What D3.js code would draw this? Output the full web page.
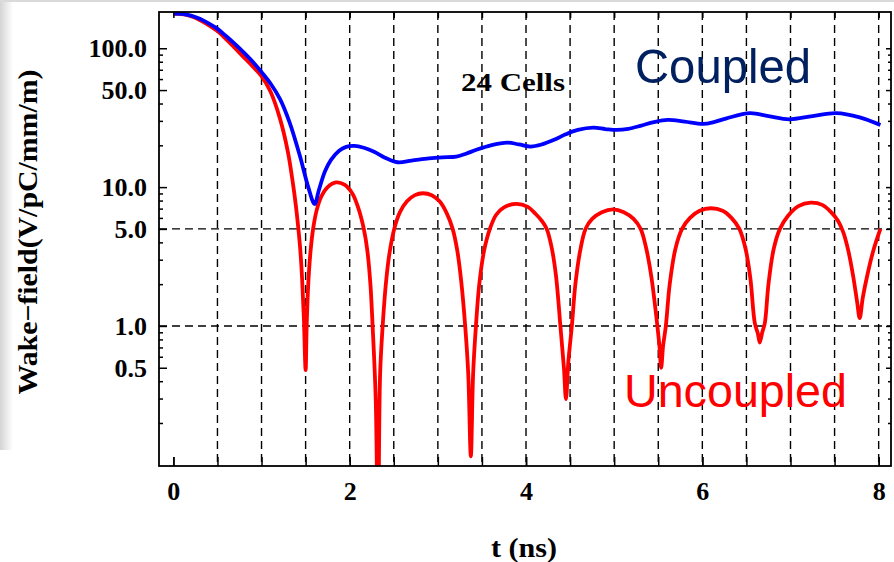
<!DOCTYPE html>
<html>
<head>
<meta charset="utf-8">
<script src="https://cdn.jsdelivr.net/npm/d3@7/dist/d3.min.js"></script>
<style>
  html, body { margin: 0; padding: 0; background: #fff; }
  svg { display: block; }
</style>
</head>
<body>
<svg id="chart" width="894" height="562"></svg>
<script>
// Wake-field envelope of a 24-cell structure, coupled vs uncoupled (log scale)
const tUncoupled = [0, 0.1, 0.2, 0.3, 0.4, 0.492, 0.6, 0.7, 0.8, 0.9, 0.995, 1.1, 1.21, 1.3, 1.362, 1.39, 1.418, 1.44, 1.46, 1.48, 1.5,
  1.512, 1.53, 1.555, 1.585, 1.625, 1.68, 1.75, 1.846, 1.94, 2.03, 2.1, 2.16, 2.2, 2.235, 2.26, 2.295, 2.321,
  2.345, 2.374, 2.41, 2.45, 2.505, 2.57, 2.65, 2.74, 2.83, 2.93, 3.02, 3.10, 3.168, 3.22, 3.265, 3.31, 3.345, 3.374,
  3.40, 3.432, 3.47, 3.525, 3.59, 3.66, 3.75, 3.889, 4.02, 4.11, 4.18, 4.235, 4.29, 4.34, 4.39, 4.43, 4.453,
  4.48, 4.52, 4.56, 4.615, 4.675, 4.75, 4.86, 4.986, 5.11, 5.22, 5.3, 5.36, 5.42, 5.49, 5.515, 5.533,
  5.555, 5.586, 5.63, 5.695, 5.77, 5.86, 5.97, 6.097, 6.23, 6.33, 6.42, 6.49, 6.545, 6.595, 6.63, 6.651,
  6.68, 6.709, 6.75, 6.81, 6.88, 6.97, 7.09, 7.23, 7.36, 7.46, 7.54, 7.6, 7.655, 7.71, 7.755, 7.785,
  7.82, 7.87, 7.94, 8.02];
const vUncoupled = [178, 176, 170, 160, 147, 134, 116, 100, 86, 74, 63.5, 49, 31, 17.8, 10, 7.3, 5.0, 3.5, 2.2, 1.15, 0.48,
  1.0, 2.0, 3.4, 5.0, 6.8, 8.6, 10.0, 10.8, 10.4, 9.0, 7.0, 5.0, 3.5, 2.0, 1.0, 0.3, 0.03,
  0.45, 1.0, 2.0, 3.3, 5.0, 6.6, 7.9, 8.75, 9.03, 8.75, 7.9, 6.5, 5.0, 3.5, 2.1, 1.0, 0.45, 0.115,
  0.45, 1.0, 2.0, 3.5, 5.0, 6.3, 7.15, 7.56, 7.2, 6.4, 5.7, 5.0, 3.7, 2.3, 1.0, 0.5, 0.297,
  0.55, 1.0, 2.0, 3.5, 5.0, 5.9, 6.6, 6.92, 6.6, 5.9, 5.0, 3.7, 2.3, 1.0, 0.7, 0.5,
  0.72, 1.0, 2.0, 3.6, 5.0, 6.0, 6.75, 7.04, 6.75, 6.0, 5.0, 3.6, 2.2, 1.05, 0.88, 0.76,
  0.9, 1.05, 2.0, 3.6, 5.0, 6.2, 7.3, 7.73, 7.45, 6.6, 5.7, 4.7, 3.5, 2.3, 1.5, 1.14,
  1.6, 2.3, 3.5, 5.0];

const tCoupled = [0, 0.1, 0.2, 0.3, 0.4, 0.492, 0.6, 0.7, 0.8, 0.9, 0.995, 1.1, 1.21, 1.32, 1.437, 1.53, 1.602,
  1.65, 1.72, 1.788, 1.88, 1.96, 2.054, 2.16, 2.277, 2.4, 2.543, 2.7, 2.898, 3.05, 3.21, 3.32, 3.43,
  3.6, 3.787, 3.92, 4.053, 4.18, 4.319, 4.45, 4.587, 4.763, 4.9, 5.03, 5.16, 5.297, 5.45, 5.607,
  5.8, 6.008, 6.14, 6.275, 6.54, 6.75, 6.985, 7.25, 7.518, 7.785, 8.02];
const vCoupled = [178, 177, 172, 163, 151, 139, 122, 107, 93, 80, 68, 56, 43, 29, 16.6, 10.0, 7.56,
  9.5, 13, 15.7, 18.3, 19.5, 19.8, 19.2, 18.0, 16.3, 15.1, 15.5, 16.1, 16.4, 16.6, 17.4, 18.5,
  20.0, 20.9, 20.3, 19.6, 20.3, 21.9, 24.0, 25.8, 26.8, 26.2, 25.8, 26.3, 27.6, 29.4, 30.5,
  29.6, 28.5, 29.5, 31.3, 34.1, 32.5, 30.8, 32.5, 34.1, 31.8, 28.0];

const xTicksMinor = d3.range(0, 8.01, 0.5);
const xTickLabels = [0, 2, 4, 6, 8];
const yTicksMajor = [0.5, 1, 5, 10, 50, 100];
const yTicksMinor = [0.2, 0.3, 0.4, 0.6, 0.7, 0.8, 0.9, 2, 3, 4, 6, 7, 8, 9, 20, 30, 40, 60, 70, 80, 90];
const xGridValues = d3.range(0.5, 8.01, 0.5);
const yGridValues = [1, 5];

const svg = d3.select("#chart");
const L = 159, R = 891, T = 12, B = 466;

const x = d3.scaleLinear().domain([-0.163, 8.14]).range([L, R]);
const y = d3.scaleLog().domain([0.098, 182.5]).range([B, T]);

// faint slide-edge shading
const defs = svg.append("defs");
const grad = defs.append("linearGradient").attr("id", "edge").attr("x1", 0).attr("x2", 1);
grad.append("stop").attr("offset", "0%").attr("stop-color", "#d4d4d4");
grad.append("stop").attr("offset", "100%").attr("stop-color", "#ffffff");
svg.append("rect").attr("x", 0).attr("y", 0).attr("width", 13).attr("height", 450).attr("fill", "url(#edge)");
svg.append("rect").attr("x", 0).attr("y", 0).attr("width", 894).attr("height", 2).attr("fill", "#dadada");

defs.append("clipPath").attr("id", "plot")
  .append("rect").attr("x", L).attr("y", T).attr("width", R - L).attr("height", B - T);

// dashed grid
const grid = svg.append("g").attr("stroke", "#000").attr("stroke-width", 1.4).attr("stroke-dasharray", "8,5");
grid.selectAll("line.v").data(xGridValues).join("line").attr("class", "v")
  .attr("x1", d => x(d)).attr("x2", d => x(d)).attr("y1", T).attr("y2", B);
grid.selectAll("line.h").data(yGridValues).join("line").attr("class", "h")
  .attr("x1", L).attr("x2", R).attr("y1", d => y(d)).attr("y2", d => y(d));

// curves
const line = d3.line().x(d => x(d[0])).y(d => y(d[1])).curve(d3.curveCatmullRom.alpha(0.5));
const plot = svg.append("g").attr("clip-path", "url(#plot)");
plot.append("path").datum(d3.zip(tUncoupled, vUncoupled))
  .attr("d", line).attr("fill", "none").attr("stroke", "#ff0000").attr("stroke-width", 3.8)
  .attr("stroke-linejoin", "round");
plot.append("path").datum(d3.zip(tCoupled, vCoupled))
  .attr("d", line).attr("fill", "none").attr("stroke", "#0000ff").attr("stroke-width", 3.8)
  .attr("stroke-linejoin", "round");

// frame ticks
const tickFont = "Liberation Serif";
function styleAxis(g) {
  g.select(".domain").remove();
  g.selectAll(".tick line").attr("stroke", "#000").attr("stroke-width", 1.5);
  g.selectAll(".tick text").attr("font-family", tickFont).attr("font-weight", "bold")
    .attr("font-size", 26).attr("fill", "#000");
}
svg.append("g").attr("transform", `translate(0,${B})`)
  .call(d3.axisBottom(x).tickValues(xTicksMinor).tickSize(-9).tickFormat(""))
  .call(styleAxis);
svg.append("g").attr("transform", `translate(0,${B})`)
  .call(d3.axisBottom(x).tickValues(xTickLabels).tickSize(-9).tickPadding(16).tickFormat(d3.format("d")))
  .call(styleAxis);
svg.append("g").attr("transform", `translate(0,${T})`)
  .call(d3.axisTop(x).tickValues(xTicksMinor).tickSize(-6).tickFormat(""))
  .call(styleAxis);
svg.append("g").attr("transform", `translate(${L},0)`)
  .call(d3.axisLeft(y).tickValues(yTicksMinor).tickSize(-4).tickFormat(""))
  .call(styleAxis);
svg.append("g").attr("transform", `translate(${L},0)`)
  .call(d3.axisLeft(y).tickValues(yTicksMajor).tickSize(-8).tickPadding(12).tickFormat(d3.format(".1f")))
  .call(styleAxis);
svg.append("g").attr("transform", `translate(${R},0)`)
  .call(d3.axisRight(y).tickValues(yTicksMinor).tickSize(-3).tickFormat(""))
  .call(styleAxis);
svg.append("g").attr("transform", `translate(${R},0)`)
  .call(d3.axisRight(y).tickValues(yTicksMajor).tickSize(-5).tickFormat(""))
  .call(styleAxis);

svg.append("rect").attr("x", L).attr("y", T).attr("width", R - L).attr("height", B - T)
  .attr("fill", "none").attr("stroke", "#000").attr("stroke-width", 1.8);

// titles and labels
svg.append("text").attr("x", 524).attr("y", 557).attr("text-anchor", "middle")
  .attr("font-family", tickFont).attr("font-weight", "bold").attr("font-size", 27)
  .attr("textLength", 66).attr("lengthAdjust", "spacingAndGlyphs").text("t (ns)");
svg.append("text").attr("transform", "translate(37,232) rotate(-90)").attr("text-anchor", "middle")
  .attr("font-family", tickFont).attr("font-weight", "bold").attr("font-size", 27)
  .attr("textLength", 325).attr("lengthAdjust", "spacingAndGlyphs").text("Wake\u2212field(V/pC/mm/m)");
svg.append("text").attr("x", 461).attr("y", 91)
  .attr("font-family", tickFont).attr("font-weight", "bold").attr("font-size", 25)
  .attr("textLength", 104).attr("lengthAdjust", "spacingAndGlyphs").text("24 Cells");
svg.append("text").attr("x", 635).attr("y", 83)
  .attr("font-family", "Liberation Sans, Arial, sans-serif").attr("font-size", 49).attr("fill", "#002060")
  .attr("textLength", 176).attr("lengthAdjust", "spacingAndGlyphs").text("Coupled");
svg.append("text").attr("x", 624).attr("y", 407)
  .attr("font-family", "Liberation Sans, Arial, sans-serif").attr("font-size", 47).attr("fill", "#ff0000")
  .attr("textLength", 223).attr("lengthAdjust", "spacingAndGlyphs").text("Uncoupled");
</script>
</body>
</html>
